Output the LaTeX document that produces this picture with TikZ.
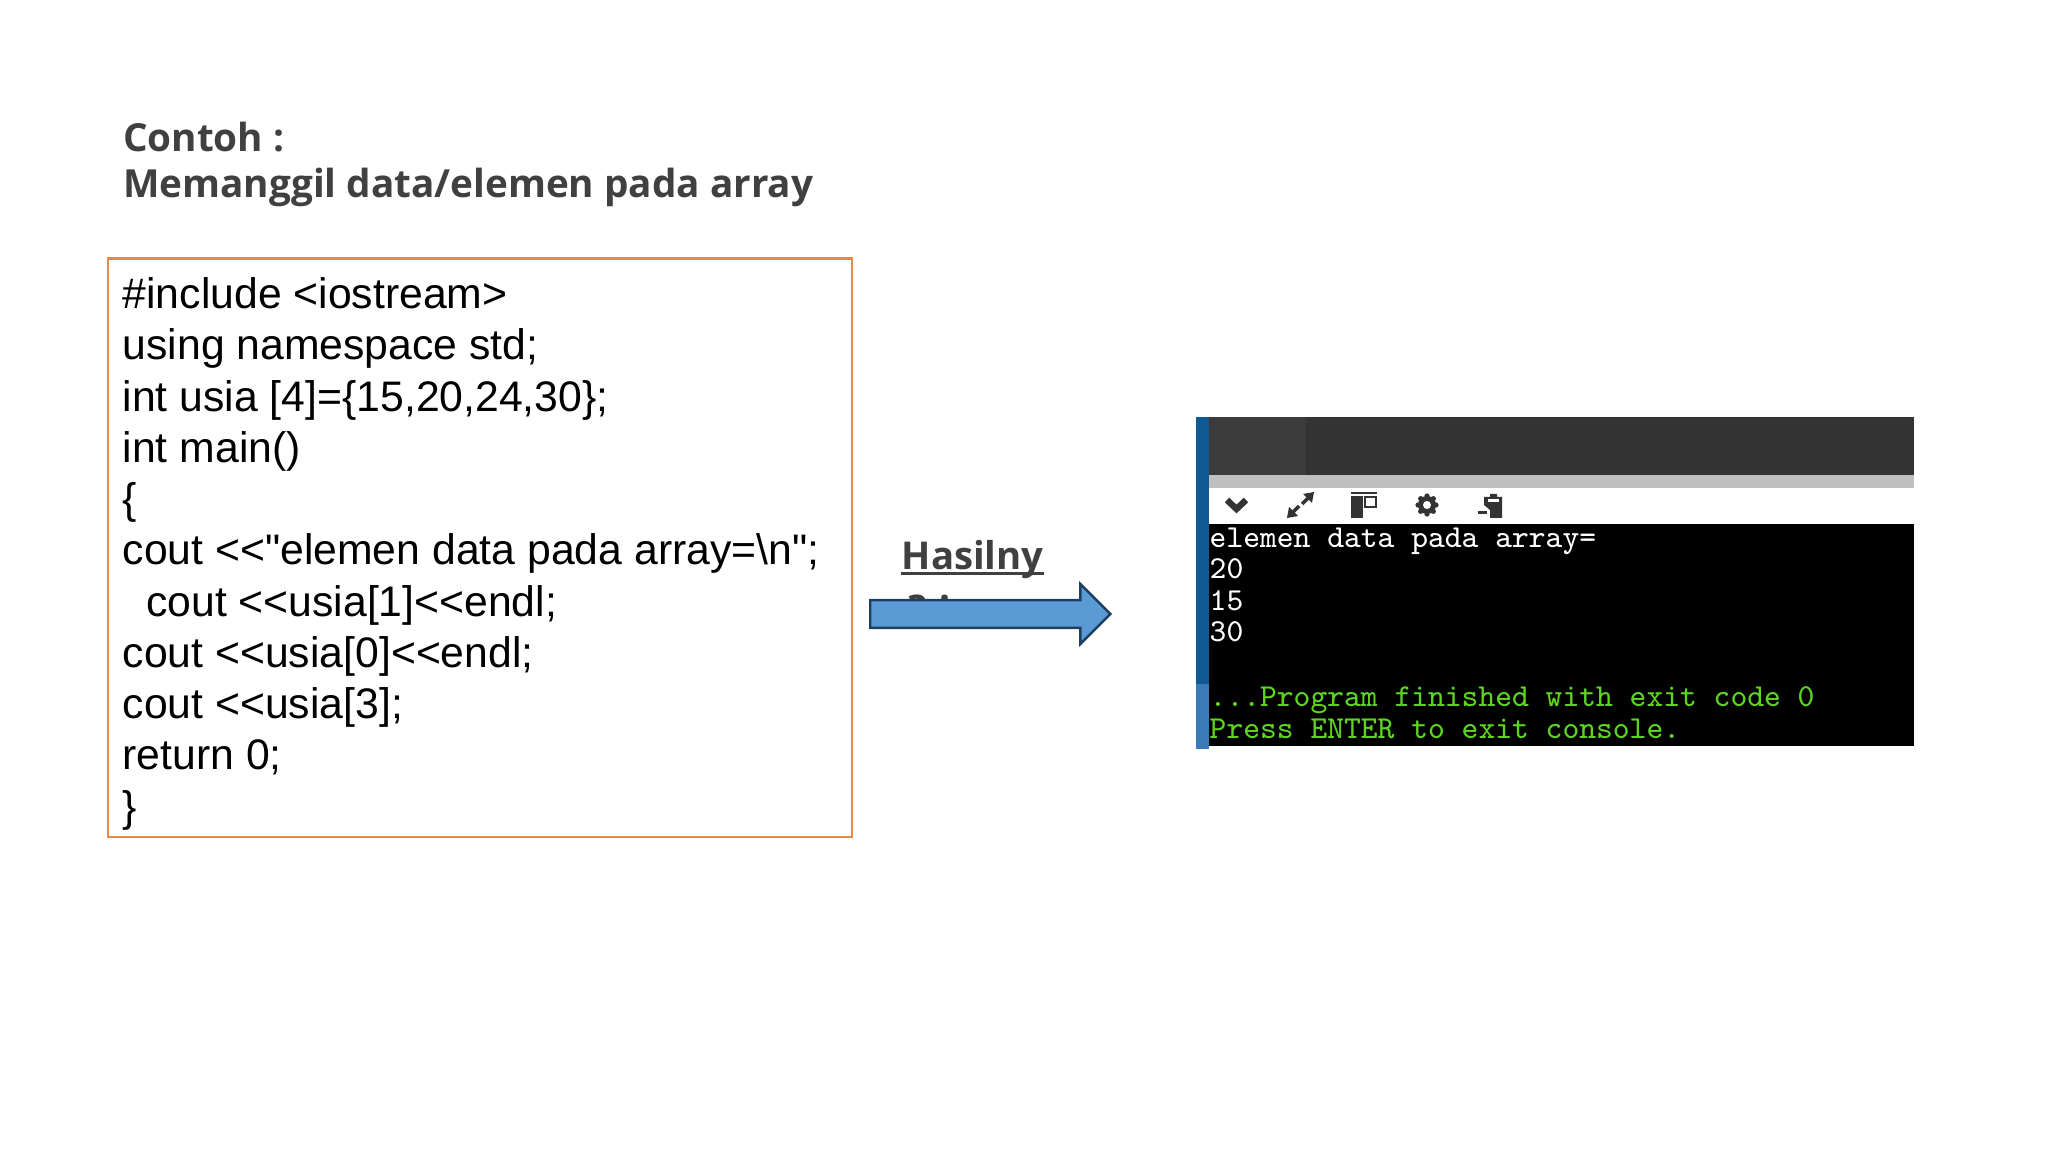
\documentclass[tikz,border=0pt]{standalone}
\usepackage{fontspec}
\setmainfont{Open Sans}
\newfontfamily\codefont{Liberation Sans}
\usetikzlibrary{positioning, shapes.arrows}
\definecolor{titlegray}{HTML}{404040}
\definecolor{boxorange}{HTML}{E58A4A}
\definecolor{arrowblue}{HTML}{5B9BD5}
\definecolor{arrowedge}{HTML}{1F3F60}
\definecolor{consolegreen}{HTML}{5FD420}
\definecolor{sidebardark}{HTML}{0F5A94}
\definecolor{sidebarlight}{HTML}{3A7AB8}
\tikzset{
    titleline/.style={anchor=base west, inner sep=0, text=titlegray, font=\fontsize{11}{13}\selectfont\bfseries},
    consoleline/.style={anchor=base west, inner sep=0, font=\fontsize{9.1}{9}\ttfamily\addfontfeatures{FakeBold=1.6}},
    iconfill/.style={fill=black!80},
}

\begin{document}
\begin{tikzpicture}[x=0.01cm, y=-0.01cm]
    \useasboundingbox (0,0) rectangle (2048,1152);

    % judul
    \node[titleline] (contoh) at (122.5,152) {Contoh :};
    \node[titleline] (memanggil) at (122.5,198) {Memanggil data/elemen pada array};

    % kode
    \node[draw=boxorange, line width=0.6pt, anchor=north west, minimum width=7.44cm, minimum height=5.78cm,
          inner sep=0] (kodebox) at (106.5,257.5) {};
    \node[anchor=north west, inner sep=0, align=left, font=\fontsize{12.15}{14.57}\selectfont\codefont] (kode) at (122,277)
        {\#include <iostream>\\
         using namespace std;\\
         int usia [4]=\{15,20,24,30\};\\
         int main()\\
         \{\\
         cout <<"elemen data pada array=\textbackslash n";\\
         \hspace*{0.55em}cout <<usia[1]<<endl;\\
         cout <<usia[0]<<endl;\\
         cout <<usia[3];\\
         return 0;\\
         \}};

    % hasil
    \node[titleline, font=\fontsize{10.9}{13}\selectfont\bfseries] (hasil) at (901,570) {Hasilny};
    \node[titleline, below=0.46cm of hasil.base west, anchor=base west, xshift=0.04cm] (hasilb) {a :};
    \draw[titlegray, line width=0.7pt] ([yshift=-0.035cm]hasil.base west) -- ([yshift=-0.035cm]hasil.base east);
    \node[single arrow, draw=arrowedge, fill=arrowblue, line width=0.7pt, anchor=west, inner xsep=0, inner ysep=0.125cm,
          text height=0, text depth=0, text width=0, minimum height=2.40cm, minimum width=0.6cm,
          single arrow head extend=0.16cm, single arrow head indent=0] (panah) at (869,614) {};

    % konsol
    \fill[black] (1209,524) rectangle (1914,746);
    \fill[white!20!black] (1209,417) rectangle (1914,475);
    \fill[white!23!black] (1209,417) rectangle (1306,475);
    \fill[black!25] (1209,475) rectangle (1914,488);
    \fill[white] (1209,488) rectangle (1914,524);
    \fill[sidebardark] (1196,417) rectangle (1209,684);
    \fill[sidebarlight] (1196,684) rectangle (1209,749);

    % ikon
    \draw[black!80, line width=1.8pt] (1227,500) -- (1236.5,509) -- (1246,500);
    \fill[iconfill] (1314,492) -- (1303,494) -- (1312,503) -- cycle;
    \draw[black!80, line width=1pt] (1308,498) -- (1302,504);
    \fill[iconfill] (1287,518) -- (1298,516) -- (1289,507) -- cycle;
    \draw[black!80, line width=1pt] (1293,512) -- (1299,506);
    \fill[iconfill] (1351,492) rectangle (1377,494);
    \fill[iconfill] (1351,496) rectangle (1363,518);
    \draw[black!80, line width=0.6pt] (1365,497) rectangle (1376,507);
    \foreach \ang in {0,45,...,315}
        \fill[iconfill] (1427,505) ++(\ang:9) circle (2.6);
    \fill[iconfill] (1427,505) circle (9);
    \fill[white] (1427,505) circle (4);
    \fill[iconfill] (1484,497) -- (1490,497) -- (1490,494) -- (1497,494) -- (1497,497) -- (1502,497) -- (1502,518)
        -- (1490,518) -- (1490,510) -- (1484,505) -- cycle;
    \fill[white] (1488,499) rectangle (1499,502);
    \fill[iconfill] (1478,511) rectangle (1487,514);

    % keluaran
    \node[consoleline, text=white] (baris1) at (1209,547.5) {elemen data pada array=};
    \node[consoleline, text=white] (baris2) at (1209,578.5) {20};
    \node[consoleline, text=white] (baris3) at (1209,610.5) {15};
    \node[consoleline, text=white] (baris4) at (1209,642) {30};
    \node[consoleline, text=consolegreen] (baris5) at (1209,706) {...Program finished with exit code 0};
    \node[consoleline, text=consolegreen] (baris6) at (1209,738) {Press ENTER to exit console.};
\end{tikzpicture}
\end{document}
